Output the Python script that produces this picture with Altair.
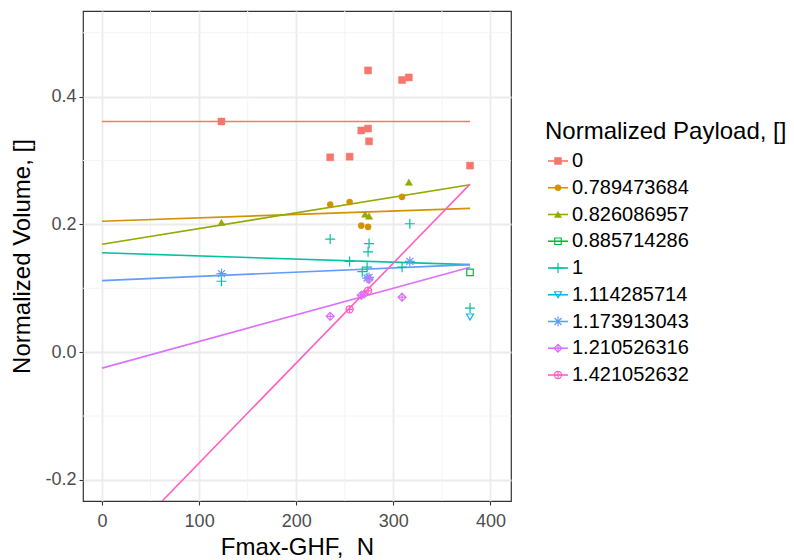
import altair as alt
import pandas as pd

# ---------------- data ----------------
levels = ["0", "0.789473684", "0.826086957", "0.885714286", "1",
          "1.114285714", "1.173913043", "1.210526316", "1.421052632"]
colors = ["#F8766D", "#D39200", "#93AA00", "#00BA38", "#00C19F",
          "#00B9E3", "#619CFF", "#DB72FB", "#FF61C3"]

pts_x = {
    "0": [123, 274, 309, 316, 267, 274, 275, 235, 255, 379],
    "0.789473684": [235, 255, 309, 267, 274],
    "0.826086957": [123, 316, 271, 275],
    "0.885714286": [379],
    "1": [123, 235, 275, 274, 255, 273, 268, 309, 317, 379],
    "1.114285714": [379],
    "1.173913043": [123, 275, 317, 273],
    "1.210526316": [235, 267, 270, 275, 309],
    "1.421052632": [255, 274],
}
pts_y = {
    "0": [0.361, 0.441, 0.426, 0.430, 0.347, 0.350, 0.330, 0.305, 0.306, 0.292],
    "0.789473684": [0.231, 0.235, 0.243, 0.198, 0.196],
    "0.826086957": [0.203, 0.266, 0.216, 0.213],
    "0.885714286": [0.125],
    "1": [0.111, 0.177, 0.170, 0.157, 0.142, 0.133, 0.126, 0.133, 0.201, 0.069],
    "1.114285714": [0.055],
    "1.173913043": [0.123, 0.117, 0.142, 0.116],
    "1.210526316": [0.056, 0.089, 0.091, 0.114, 0.086],
    "1.421052632": [0.067, 0.096],
}

# fitted lines (value at start and end of the x range)
line_groups = ["0", "0.789473684", "0.826086957", "1",
               "1.173913043", "1.210526316", "1.421052632"]
line_x_start = [0, 0, 0, 0, 0, 0, 0]
line_x_end = [379, 379, 379, 379, 379, 379, 379]
line_y_start = [0.361, 0.205, 0.169, 0.1555, 0.112, -0.025, -0.330]
line_y_end = [0.361, 0.225, 0.262, 0.137, 0.137, 0.133, 0.263]

x_ticks = [0, 100, 200, 300, 400]
y_ticks = [-0.2, 0.0, 0.2, 0.4]
x_minor = [50, 150, 250, 350]
y_minor = [-0.1, 0.1, 0.3, 0.5]

# ---------------- styles ----------------
PLUS = "M-1,0L1,0M0,-1L0,1"
ASTER = "M-1,0L1,0M0,-1L0,1M-0.7,-0.7L0.7,0.7M-0.7,0.7L0.7,-0.7"
DIAPLUS = "M0,-1L1,0L0,1L-1,0ZM0,-1L0,1M-1,0L1,0"
CIRPLUS = "M-1,0A1,1,0,1,1,1,0A1,1,0,1,1,-1,0ZM0,-1L0,1M-1,0L1,0"
shapes = ["square", "circle", "triangle-up", "square", PLUS,
          "triangle-down", ASTER, DIAPLUS, CIRPLUS]
filled = [True, True, True, False, False, False, False, False, False]
sizes = [49, 38, 52, 42, 100, 48, 100, 64, 52]

FONT = "Liberation Sans"

# ---------------- frames ----------------
rows = []
for g in levels:
    for xv, yv in zip(pts_x[g], pts_y[g]):
        rows.append({"group": g, "x": xv, "y": yv})
df_pts = pd.DataFrame(rows)

lrows = []
for g, xs_, xe, ys_, ye in zip(line_groups, line_x_start, line_x_end,
                               line_y_start, line_y_end):
    lrows.append({"group": g, "x": xs_, "y": ys_})
    lrows.append({"group": g, "x": xe, "y": ye})
df_lines = pd.DataFrame(lrows)

xs = alt.Scale(domain=[-19.6, 421.2], nice=False, zero=False)
ys = alt.Scale(domain=[-0.233, 0.534], nice=False, zero=False)

x_axis = alt.Axis(values=x_ticks, title="Fmax-GHF,\u00a0 N", grid=True,
                  labelPadding=7, titlePadding=5)
y_axis = alt.Axis(values=y_ticks, title="Normalized Volume, []", grid=True,
                  labelPadding=3, titlePadding=10,
                  labelExpr="datum.value < 0 ? '-' + format(-datum.value, '.1f') : format(datum.value, '.1f')")

X = alt.X("x:Q", scale=xs, axis=x_axis)
Y = alt.Y("y:Q", scale=ys, axis=y_axis)

layers = []
# minor grid
layers.append(alt.Chart(pd.DataFrame({"x": x_minor})).mark_rule(
    color="#F4F4F4", strokeWidth=1).encode(x=X))
layers.append(alt.Chart(pd.DataFrame({"y": y_minor})).mark_rule(
    color="#F4F4F4", strokeWidth=1).encode(y=Y))

for g in line_groups:
    c = colors[levels.index(g)]
    layers.append(alt.Chart(df_lines[df_lines.group == g]).mark_line(
        color=c, strokeWidth=1.6, clip=True).encode(x=X, y=Y))

for i, g in enumerate(levels):
    c = colors[i]
    if filled[i]:
        mk = alt.Chart(df_pts[df_pts.group == g]).mark_point(
            shape=shapes[i], size=sizes[i], filled=True, fill=c, stroke=c,
            strokeWidth=0.5, opacity=1, clip=True)
    else:
        mk = alt.Chart(df_pts[df_pts.group == g]).mark_point(
            shape=shapes[i], size=sizes[i], filled=False, stroke=c,
            fill="transparent", strokeWidth=1.2, opacity=1, clip=True)
    layers.append(mk.encode(x=X, y=Y))

main = alt.layer(*layers).properties(
    width=428, height=490,
    view=alt.ViewBackground(stroke="#333333", strokeWidth=1.2))

# ---------------- legend panel ----------------
leg_df = pd.DataFrame({"group": levels})
LY = alt.Y("group:N", sort=levels, axis=None,
           scale=alt.Scale(type="point", domain=levels, range=[150, 364], padding=0))

leg_layers = [
    alt.Chart(pd.DataFrame({"t": ["Normalized Payload, []"]})).mark_text(
        align="left", baseline="middle", fontSize=24, font=FONT, color="black"
    ).encode(x=alt.value(3), y=alt.value(121), text="t:N")
]
for i, g in enumerate(levels):
    c = colors[i]
    sub = leg_df[leg_df.group == g]
    leg_layers.append(alt.Chart(sub).mark_rule(color=c, strokeWidth=1.6).encode(
        x=alt.value(6), x2=alt.value(26), y=LY))
    if filled[i]:
        pm = alt.Chart(sub).mark_point(shape=shapes[i], size=sizes[i], filled=True,
                                       fill=c, stroke=c, strokeWidth=0.5, opacity=1)
    else:
        pm = alt.Chart(sub).mark_point(shape=shapes[i], size=sizes[i], filled=False,
                                       stroke=c, fill="transparent", strokeWidth=1.2,
                                       opacity=1)
    leg_layers.append(pm.encode(x=alt.value(16), y=LY))
leg_layers.append(alt.Chart(leg_df).mark_text(
    align="left", baseline="middle", fontSize=20, font=FONT, color="black"
).encode(x=alt.value(30), y=LY, text="group:N"))

legend = alt.layer(*leg_layers).properties(width=245, height=490)

chart = alt.hconcat(main, legend, spacing=28).properties(
    padding={"left": 10, "top": 9, "right": 0, "bottom": 0}
).configure(font=FONT).configure_view(stroke="transparent").configure_axis(
    labelFontSize=18, labelColor="#4D4D4D", labelFont=FONT,
    tickColor="#333333", tickSize=4, tickWidth=1.1,
    domain=False, gridColor="#EBEBEB", gridWidth=1.8,
    titleFontSize=24, titleFontWeight="normal", titleColor="black", titleFont=FONT,
)

chart.save("out.html", embed_options={"renderer": "svg", "actions": False})
